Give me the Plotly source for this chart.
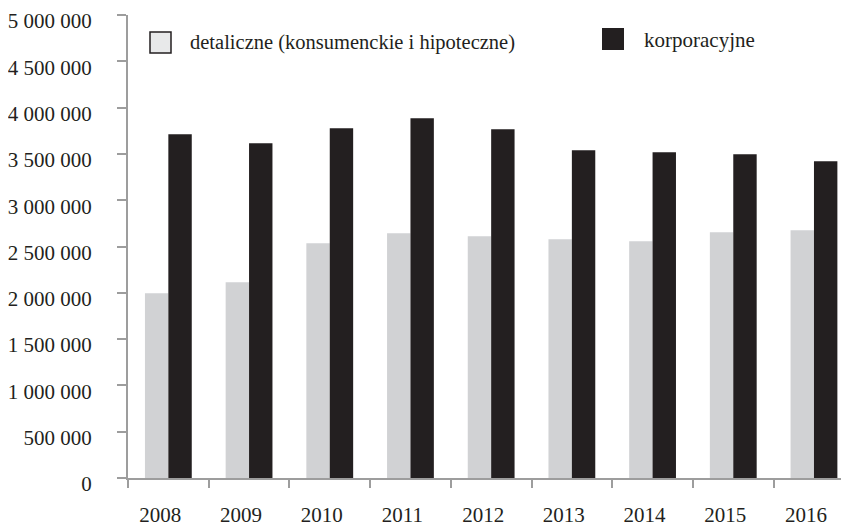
import plotly.graph_objects as go

years = ["2008", "2009", "2010", "2011", "2012", "2013", "2014", "2015", "2016"]
detaliczne = [1996000, 2115000, 2536000, 2644000, 2611000, 2579000, 2557000, 2655000, 2676000]
korporacyjne = [3712000, 3615000, 3777000, 3885000, 3766000, 3539000, 3518000, 3496000, 3421000]
series_names = ["detaliczne (konsumenckie i hipoteczne)", "korporacyjne"]
y_ticks = [0, 500000, 1000000, 1500000, 2000000, 2500000, 3000000, 3500000, 4000000, 4500000, 5000000]

LIGHT = "#d1d2d4"
DARK = "#231f20"
AXIS = "#9d9d9d"
FONT = "Liberation Serif, Times New Roman, serif"

# page body has an 8px margin; figure sized to fit the window
OFF = 8
W, H = 849 - OFF, 526 - OFF
ML, MT = 128 - OFF, 15 - OFF
PLOT_BOTTOM = 478 - OFF
MB = H - PLOT_BOTTOM
PW = W - ML
PH = H - MT - MB

fig = go.Figure()
fig.add_trace(go.Bar(x=years, y=detaliczne, name=series_names[0], marker=dict(color=LIGHT, line=dict(width=0))))
fig.add_trace(go.Bar(x=years, y=korporacyjne, name=series_names[1], marker=dict(color=DARK, line=dict(width=0))))

def px_x(p):
    return (p - OFF - ML) / PW

def px_y(p):
    return (PLOT_BOTTOM - (p - OFF)) / PH

# legend drawn as shapes + text
fig.add_shape(type="rect", xref="paper", yref="paper",
              x0=px_x(150), x1=px_x(171), y0=px_y(53), y1=px_y(32),
              fillcolor="#e8e9ea", line=dict(color=DARK, width=1.5))
fig.add_shape(type="rect", xref="paper", yref="paper",
              x0=px_x(602), x1=px_x(624), y0=px_y(50), y1=px_y(28),
              fillcolor=DARK, line=dict(color=DARK, width=0))
fig.add_annotation(xref="paper", yref="paper", x=px_x(188), y=px_y(42),
                   text=series_names[0], showarrow=False, xanchor="left", yanchor="middle",
                   font=dict(family=FONT, size=20.5, color=DARK))
fig.add_annotation(xref="paper", yref="paper", x=px_x(642), y=px_y(40),
                   text=series_names[1], showarrow=False, xanchor="left", yanchor="middle",
                   font=dict(family=FONT, size=21, color=DARK))

fig.update_layout(
    width=W, height=H,
    margin=dict(l=ML, r=0, t=MT, b=MB, pad=0, autoexpand=False),
    paper_bgcolor="white", plot_bgcolor="white",
    barmode="group", bargap=0.42, bargroupgap=0,
    showlegend=False,
    separators=", ",
    font=dict(family=FONT, size=21, color=DARK),
)
fig.update_xaxes(
    type="category", range=[-0.5, 8.434], automargin=False,
    showline=True, linecolor=AXIS, linewidth=2,
    ticks="outside", tickson="boundaries", ticklen=8, tickcolor=AXIS, tickwidth=2,
    showgrid=False, zeroline=False,
    ticklabelshift=-8, ticklabelstandoff=17, ticklabeloverflow="allow",
    tickfont=dict(family=FONT, size=21, color=DARK),
)
fig.update_yaxes(
    range=[0, 5000000], tickvals=y_ticks, tickformat=",d", automargin=False,
    showline=True, linecolor=AXIS, linewidth=2,
    ticks="outside", ticklen=9, tickcolor=AXIS, tickwidth=2,
    showgrid=False, zeroline=False,
    ticklabelstandoff=21, ticklabelshift=6, ticklabeloverflow="allow",
    tickfont=dict(family=FONT, size=21, color=DARK),
)

fig.write_html("out.html")
